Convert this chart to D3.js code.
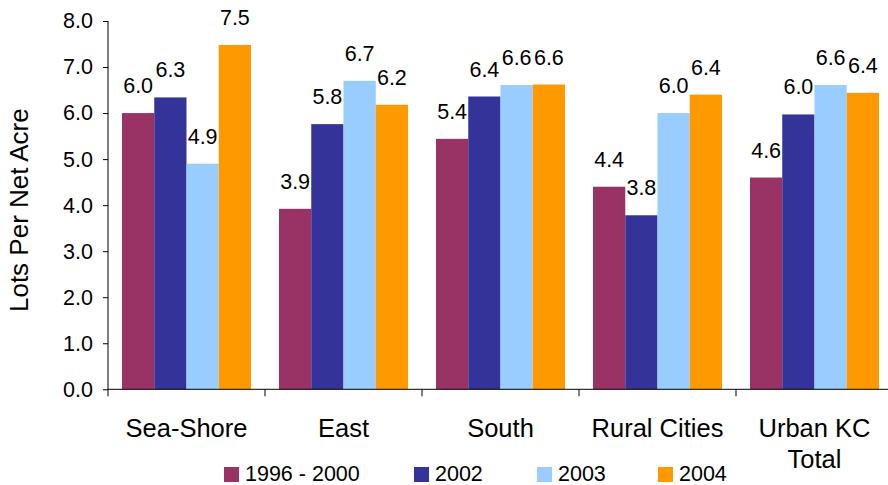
<!DOCTYPE html>
<html>
<head>
<meta charset="utf-8">
<script src="https://cdn.jsdelivr.net/npm/d3@7"></script>
<style>
  html, body { margin: 0; padding: 0; background: #fff; }
  svg { display: block; font-family: "Liberation Sans", Arial, sans-serif; }
</style>
</head>
<body>
<svg id="chart" width="888" height="485"></svg>
<script>
const categories = [["Sea-Shore"], ["East"], ["South"], ["Rural Cities"], ["Urban KC", "Total"]];
const seriesNames = ["1996 - 2000", "2002", "2003", "2004"];
const values1996 = [6.0, 3.92, 5.44, 4.4, 4.6];
const values2002 = [6.34, 5.76, 6.36, 3.78, 5.97];
const values2003 = [4.9, 6.7, 6.61, 6.0, 6.61];
const values2004 = [7.48, 6.18, 6.62, 6.4, 6.44];
const yTicks = [0, 1, 2, 3, 4, 5, 6, 7, 8];
const colors = ["#993366", "#333399", "#99CCFF", "#FF9900"];

(function () {
const seriesValues = [values1996, values2002, values2003, values2004];
const catKeys = categories.map(c => c.join(" "));

const svg = d3.select("#chart");
const pL = 108, pR = 893, pT = 21, pB = 389.3;

const x0 = d3.scaleBand().domain(catKeys).range([pL, pR]).paddingInner(0).paddingOuter(0);
const x1 = d3.scaleBand().domain(seriesNames).range([14, x0.bandwidth() - 14]).padding(0);
const y = d3.scaleLinear().domain([0, 8]).range([pB, pT]);

// bars
const groups = svg.append("g").selectAll("g")
  .data(catKeys)
  .join("g")
  .attr("transform", d => `translate(${x0(d)},0)`);

groups.selectAll("rect")
  .data((d, i) => seriesNames.map((s, j) => ({ s, j, v: seriesValues[j][i] })))
  .join("rect")
  .attr("x", d => x1(d.s))
  .attr("width", x1.bandwidth())
  .attr("y", d => y(d.v))
  .attr("height", d => pB - y(d.v))
  .attr("fill", d => colors[d.j]);

groups.selectAll("text.lbl")
  .data((d, i) => seriesNames.map((s, j) => ({ s, j, v: seriesValues[j][i] })))
  .join("text")
  .attr("class", "lbl")
  .attr("x", d => x1(d.s) + x1.bandwidth() / 2)
  .attr("y", d => y(d.v) - 20)
  .attr("text-anchor", "middle")
  .attr("font-size", 21.5)
  .attr("fill", "#000")
  .text(d => d3.format(".1f")(d.v));

// y axis
const yAxis = d3.axisLeft(y).tickValues(yTicks).tickFormat(d3.format(".1f")).tickSizeOuter(0).tickSize(5).tickPadding(10);
const gy = svg.append("g").attr("transform", `translate(${pL},0)`).call(yAxis);
gy.select(".domain").remove();
gy.selectAll(".tick line").attr("stroke", "#000");
gy.selectAll(".tick text").attr("font-size", 21.5).attr("fill", "#000").attr("font-family", "Liberation Sans, Arial, sans-serif");
svg.append("line").attr("x1", pL).attr("x2", pL).attr("y1", pT).attr("y2", pB + 7).attr("stroke", "#000");

// x axis
svg.append("line").attr("x1", pL).attr("x2", pR).attr("y1", pB).attr("y2", pB).attr("stroke", "#000");
svg.append("g").selectAll("line")
  .data(catKeys.slice(1))
  .join("line")
  .attr("x1", d => x0(d)).attr("x2", d => x0(d))
  .attr("y1", pB).attr("y2", pB + 7)
  .attr("stroke", "#000");

const catText = svg.append("g").selectAll("text")
  .data(categories)
  .join("text")
  .attr("x", (d, i) => x0(catKeys[i]) + x0.bandwidth() / 2)
  .attr("y", 437)
  .attr("text-anchor", "middle")
  .attr("font-size", 25.5)
  .attr("fill", "#000");
catText.selectAll("tspan")
  .data(d => d)
  .join("tspan")
  .attr("x", function() { return d3.select(this.parentNode).attr("x"); })
  .attr("dy", (d, i) => i === 0 ? 0 : 31)
  .text(d => d);

// y title
svg.append("text")
  .attr("transform", `translate(28,${(pT + pB) / 2 + 5}) rotate(-90)`)
  .attr("text-anchor", "middle")
  .attr("font-size", 26)
  .attr("fill", "#000")
  .text("Lots Per Net Acre");

// legend
const legendX = [224, 414, 537, 658];
const lg = svg.append("g").selectAll("g")
  .data(seriesNames)
  .join("g")
  .attr("transform", (d, i) => `translate(${legendX[i]},467)`);
lg.append("rect").attr("width", 15).attr("height", 15).attr("fill", (d, i) => colors[i]);
lg.append("text").attr("x", 21).attr("y", 13.5).attr("font-size", 21.5).attr("fill", "#000").text(d => d);
})();
</script>
</body>
</html>
